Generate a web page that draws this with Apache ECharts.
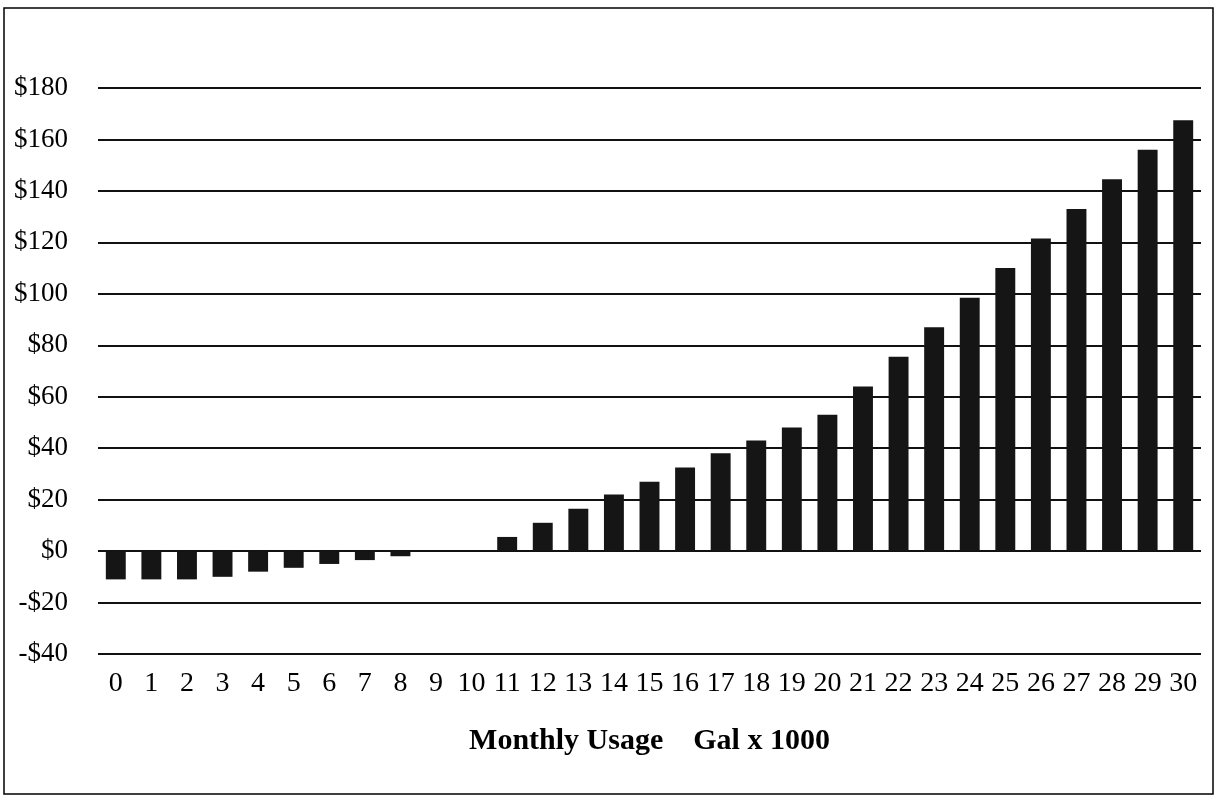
<!DOCTYPE html>
<html>
<head>
<meta charset="utf-8">
<script src="https://cdn.jsdelivr.net/npm/echarts@6/dist/echarts.min.js"></script>
<style>
  html, body { margin: 0; padding: 0; background: #fff; }
  #chart { width: 1218px; height: 800px; }
</style>
</head>
<body>
<div id="chart"></div>
<script>
// monthly usage, thousands of gallons
const usage = [
  "0", "1", "2", "3", "4", "5", "6", "7", "8", "9", "10",
  "11", "12", "13", "14", "15", "16", "17", "18", "19", "20",
  "21", "22", "23", "24", "25", "26", "27", "28", "29", "30"
];

// dollar amounts
const amounts = [
  -11, -11, -11, -10, -8, -6.5, -5, -3.5, -2, 0, 0,
  5.5, 11, 16.5, 22, 27, 32.5, 38, 43, 48, 53,
  64, 75.5, 87, 98.5, 110, 121.5, 133, 144.5, 156, 167.5
];

const yTicks = { min: -40, max: 180, step: 20 };

const serif = "'Liberation Serif', 'Times New Roman', serif";

const dollar = (v) => (v < 0 ? `-$${-v}` : `$${v}`);

const renderChart = (el, option) => {
  const myChart = echarts.init(el);
  myChart.setOption(option, true);
  window.onresize = function () {
    myChart.resize();
  };
};

const option = {
  backgroundColor: "#fff",
  animation: false,
  graphic: [
    {
      type: "rect",
      shape: { x: 4, y: 8, width: 1209, height: 786 },
      style: { fill: "none", stroke: "#000", lineWidth: 1.5 },
      silent: true
    }
  ],
  grid: { left: 98, right: 17, top: 88, bottom: 146 },
  xAxis: {
    type: "category",
    data: usage,
    axisLine: { show: false },
    axisTick: { show: false },
    axisLabel: {
      interval: 0,
      margin: 16,
      color: "#000",
      fontSize: 28,
      fontFamily: serif
    },
    name: "Monthly Usage    Gal x 1000",
    nameLocation: "middle",
    nameGap: 72,
    nameTextStyle: {
      color: "#000",
      fontSize: 30,
      fontWeight: "bold",
      fontFamily: serif
    }
  },
  yAxis: {
    type: "value",
    min: yTicks.min,
    max: yTicks.max,
    interval: yTicks.step,
    axisLine: { show: false },
    axisTick: { show: false },
    splitLine: { lineStyle: { color: "#111", width: 2 } },
    axisLabel: {
      margin: 30,
      color: "#000",
      fontSize: 27,
      fontFamily: serif,
      formatter: dollar
    }
  },
  series: [
    {
      type: "bar",
      data: amounts,
      barWidth: "56%",
      itemStyle: { color: "#151515" }
    }
  ]
};

renderChart(document.getElementById("chart"), option);
</script>
</body>
</html>
